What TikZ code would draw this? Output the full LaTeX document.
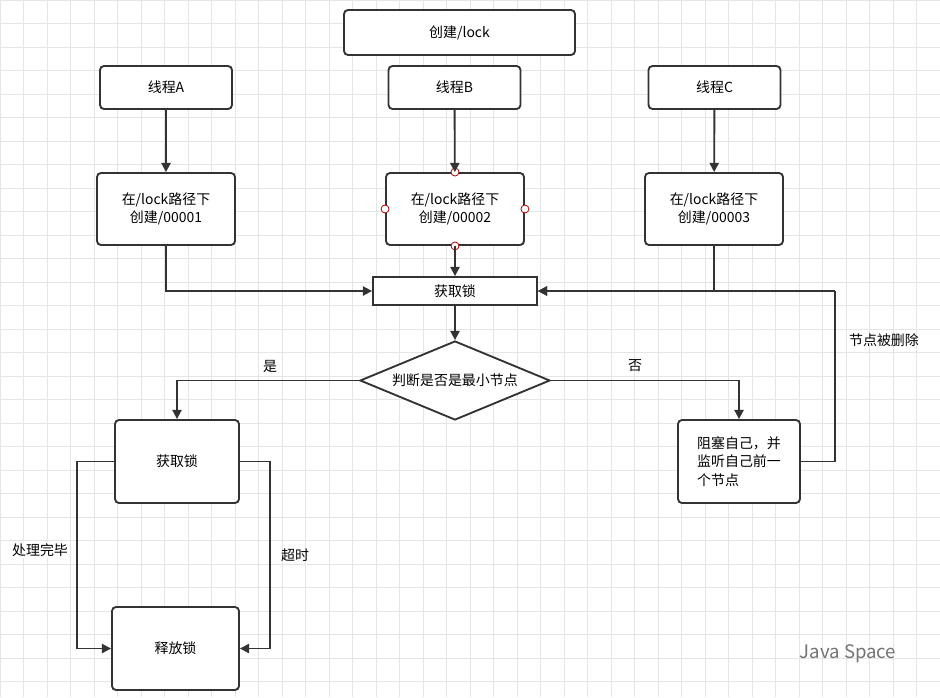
\documentclass[tikz,border=0pt]{standalone}
\usepackage{fontspec}
\setmainfont{Noto Sans CJK SC}
\usetikzlibrary{arrows.meta,shapes.geometric}
\begin{document}
\begin{tikzpicture}[x=0.02646cm,y=-0.02646cm,
 box/.style={draw=black!80,line width=1.4pt,rounded corners=3pt,fill=white,font=\fontsize{10.5}{14}\selectfont,align=center,inner sep=0pt},
 arr/.style={draw=black!80,line width=1.4pt,-{Triangle[length=7pt,width=7pt]}},
 ln/.style={draw=black!80,line width=1.4pt},
 lbl/.style={font=\fontsize{10.5}{12}\selectfont},
 dot/.style={circle,draw=red!70!black,fill=white,inner sep=0pt,minimum size=6pt,line width=0.6pt}]
\useasboundingbox (0,0) rectangle (940,697);
\fill[white] (0,0) rectangle (940,697);
\foreach \i in {0,...,40} {\draw[black!10,line width=0.3pt] (\i*23.5,0) -- (\i*23.5,697);}
\foreach \i in {0,...,30} {\draw[black!10,line width=0.3pt] (0,\i*23.5) -- (940,\i*23.5);}
\node[box,minimum width=231*0.02646cm,minimum height=45*0.02646cm] (cl) at (459.5,32.5) {创建/lock};
\foreach \n/\x/\t in {ta/166/线程A,tb/454.5/线程B,tc/714.5/线程C}
 \node[box,minimum width=132*0.02646cm,minimum height=43*0.02646cm] (\n) at (\x,87.5) {\t};
\foreach \n/\x/\t in {pa/166/00001,pb/455/00002,pc/714/00003}
 \node[box,minimum width=138*0.02646cm,minimum height=72*0.02646cm] (\n) at (\x,209) {在/lock路径下\\创建/\t};
\node[box,rounded corners=0pt,minimum width=164*0.02646cm,minimum height=28*0.02646cm] (get) at (455,291) {获取锁};
\node[diamond,draw=black!80,line width=1.4pt,fill=white,aspect=2.4,minimum width=190*0.02646cm,minimum height=79*0.02646cm,inner sep=0pt,font=\fontsize{10.5}{12}\selectfont] (dm) at (455,380.5) {判断是否是最小节点};
\node[box,minimum width=124*0.02646cm,minimum height=83*0.02646cm] (gl) at (177,461.5) {获取锁};
\node[box,minimum width=127*0.02646cm,minimum height=83*0.02646cm] (rl) at (175.5,648.5) {释放锁};
\node[box,minimum width=122*0.02646cm,minimum height=83*0.02646cm,align=left] (bk) at (739,461.5) {阻塞自己，并\\监听自己前一\\个节点};
\foreach \a in {north,south,east,west} \node[dot] at (pb.\a) {};
\draw[arr] (ta) -- (pa);
\draw[arr] (tb) -- (pb);
\draw[arr] (tc) -- (pc);
\draw[arr] (pb) -- (get);
\draw[arr] (pa.south) |- (get.west);
\draw[arr] (pc.south) |- (get.east);
\draw[arr] (get) -- (dm);
\draw[arr] (dm.west) -| (gl.north);
\node[lbl] (ly) at (270,366) {是};
\draw[arr] (dm.east) -| (bk.north);
\node[lbl] (ln) at (635,366) {否};
\coordinate (r1) at (835,461.5);
\coordinate (r2) at (835,291);
\draw[ln] (bk.east) -- (r1) -- (r2);
\node[lbl] (lr) at (884,340) {节点被删除};
\draw[arr] (r2) -- (get.east);
\coordinate (l1) at (77,461.5);
\coordinate (l2) at (77,648.5);
\draw[ln] (gl.west) -- (l1) -- (l2);
\node[lbl,fill=white,inner sep=1pt] (ll) at (40,550) {处理完毕};
\draw[arr] (l2) -- (rl.west);
\coordinate (m1) at (270,461.5);
\coordinate (m2) at (270,648.5);
\draw[ln] (gl.east) -- (m1) -- (m2);
\node[lbl] (lm) at (295,555) {超时};
\draw[arr] (m2) -- (rl.east);
\node[font=\fontsize{14}{16}\selectfont,text=black!55] (ws) at (848,654) {Java Space};
\end{tikzpicture}
\end{document}
